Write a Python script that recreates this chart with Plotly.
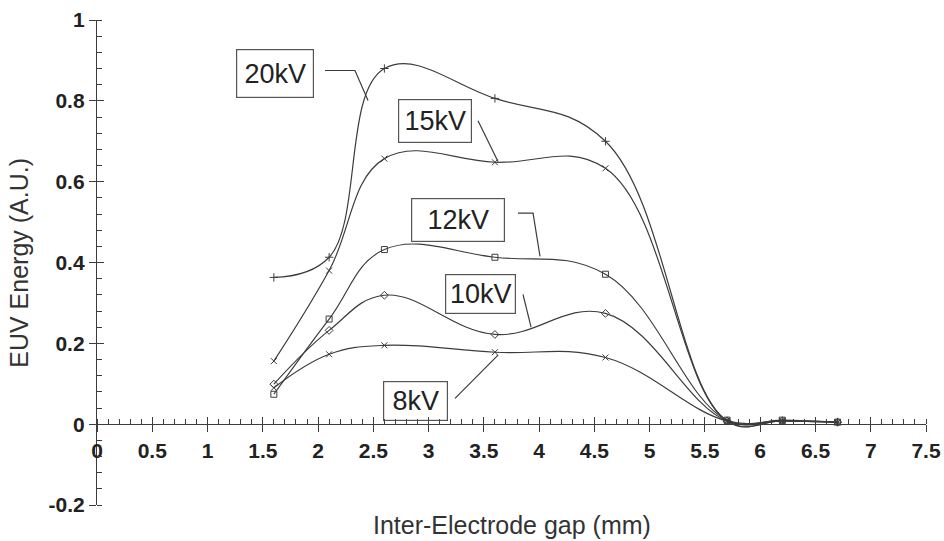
import plotly.graph_objects as go

# ---- data ----
gap_mm = [1.6, 2.1, 2.6, 3.6, 4.6, 5.7, 6.2, 6.7]
e_20kv = [0.363, 0.413, 0.880, 0.806, 0.700, 0.008, 0.008, 0.005]
e_15kv = [0.156, 0.380, 0.657, 0.648, 0.633, 0.008, 0.008, 0.005]
e_12kv = [0.074, 0.260, 0.432, 0.413, 0.371, 0.010, 0.010, 0.005]
e_10kv = [0.099, 0.232, 0.319, 0.222, 0.274, 0.008, 0.008, 0.005]
e_8kv = [0.090, 0.173, 0.195, 0.178, 0.165, 0.008, 0.008, 0.005]

series_names = ["20kV", "15kV", "12kV", "10kV", "8kV"]
series_values = [e_20kv, e_15kv, e_12kv, e_10kv, e_8kv]
series_symbols = ["cross-thin-open", "x-thin-open", "square-open", "diamond-open", "x-thin-open"]

x_tickvals = [0, 0.5, 1, 1.5, 2, 2.5, 3, 3.5, 4, 4.5, 5, 5.5, 6, 6.5, 7, 7.5]
x_ticktext = ["0", "0.5", "1", "1.5", "2", "2.5", "3", "3.5", "4", "4.5", "5", "5.5", "6", "6.5", "7", "7.5"]
y_tickvals = [-0.2, 0, 0.2, 0.4, 0.6, 0.8, 1]
y_ticktext = ["-0.2", "0", "0.2", "0.4", "0.6", "0.8", "1"]

# label boxes: (text, x, y, width, height)
labels = [
    ("20kV", 1.61, 0.867, 72, 43),
    ("15kV", 3.058, 0.751, 68, 38),
    ("12kV", 3.266, 0.504, 88, 38),
    ("10kV", 3.470, 0.321, 65, 34),
    ("8kV", 2.882, 0.057, 59, 34),
]
# leader lines (data coordinates)
leaders = [
    [(2.063, 0.875), (2.334, 0.875), (2.452, 0.801)],
    [(3.447, 0.751), (3.628, 0.650)],
    [(3.809, 0.522), (3.945, 0.522), (4.008, 0.415)],
    [(3.854, 0.321), (3.927, 0.240)],
    [(3.239, 0.064), (3.628, 0.171)],
]

INK = "#3c3c3c"
FONT = "Liberation Sans, Arial, sans-serif"

fig = go.Figure()
for name, vals, sym in zip(series_names, series_values, series_symbols):
    fig.add_trace(go.Scatter(
        x=gap_mm, y=vals, name=name, mode="lines+markers",
        line=dict(color=INK, width=1.2, shape="spline", smoothing=1.15),
        marker=dict(symbol=sym, size=6, color=INK, line=dict(color=INK, width=1)),
        showlegend=False,
    ))

# dummy trace to create overlay axes for crossing ticks
fig.add_trace(go.Scatter(x=[], y=[], xaxis="x2", yaxis="y2", showlegend=False))

zero_pos = (0 - (-0.2)) / (1 - (-0.2))

tickfont = dict(family=FONT, size=21, color="#222", weight="bold")

fig.update_layout(
    width=944, height=541,
    margin=dict(l=97, r=18, t=20, b=36),
    paper_bgcolor="white", plot_bgcolor="white",
    xaxis=dict(
        range=[0, 7.5], anchor="free", position=zero_pos, automargin=False,
        showline=True, linecolor=INK, linewidth=1.3,
        showgrid=False, zeroline=False,
        tickmode="array", tickvals=x_tickvals, ticktext=x_ticktext,
        ticks="outside", ticklen=7, tickwidth=1.3, tickcolor=INK,
        tickfont=tickfont,
        minor=dict(ticks="inside", dtick=0.1, ticklen=5, tickwidth=1, tickcolor=INK, showgrid=False),
    ),
    xaxis2=dict(
        range=[0, 7.5], overlaying="x", anchor="free", position=zero_pos, automargin=False,
        showline=False, showgrid=False, zeroline=False, showticklabels=False,
        tickmode="array", tickvals=x_tickvals,
        ticks="inside", ticklen=7, tickwidth=1.3, tickcolor=INK,
    ),
    yaxis=dict(
        range=[-0.2, 1], automargin=False,
        showline=True, linecolor=INK, linewidth=1.3,
        showgrid=False, zeroline=False,
        tickmode="array", tickvals=y_tickvals, ticktext=y_ticktext,
        ticks="outside", ticklen=7, tickwidth=1.3, tickcolor=INK,
        tickfont=tickfont,
        minor=dict(ticks="inside", dtick=0.04, tick0=0, ticklen=5, tickwidth=1, tickcolor=INK, showgrid=False),
    ),
    yaxis2=dict(
        range=[-0.2, 1], overlaying="y", anchor="x", automargin=False,
        showline=False, showgrid=False, zeroline=False, showticklabels=False,
        tickmode="array", tickvals=y_tickvals,
        ticks="inside", ticklen=7, tickwidth=1.3, tickcolor=INK,
    ),
)

annotations = []
for text, lx, ly, w, h in labels:
    annotations.append(dict(
        x=lx, y=ly, xref="x", yref="y", text=text, showarrow=False,
        font=dict(family=FONT, size=27, color="#222"),
        bordercolor="#555", borderwidth=1.2, borderpad=2,
        width=w, height=h, bgcolor="rgba(0,0,0,0)",
    ))
annotations.append(dict(
    x=0.5, y=0, xref="paper", yref="paper", yanchor="middle",
    text="Inter-Electrode gap (mm)", showarrow=False,
    font=dict(family=FONT, size=25, color="#333"),
    yshift=-20,
))
annotations.append(dict(
    x=-0.095, y=0.5, xref="paper", yref="paper", xanchor="center",
    text="EUV Energy (A.U.)", showarrow=False, textangle=-90,
    font=dict(family=FONT, size=25, color="#333"),
))

shapes = []
for pts in leaders:
    path = "M " + " L ".join(f"{px},{py}" for px, py in pts)
    shapes.append(dict(type="path", path=path, xref="x", yref="y",
                       line=dict(color=INK, width=1.2)))

fig.update_layout(annotations=annotations, shapes=shapes)

fig.write_html("out.html")
